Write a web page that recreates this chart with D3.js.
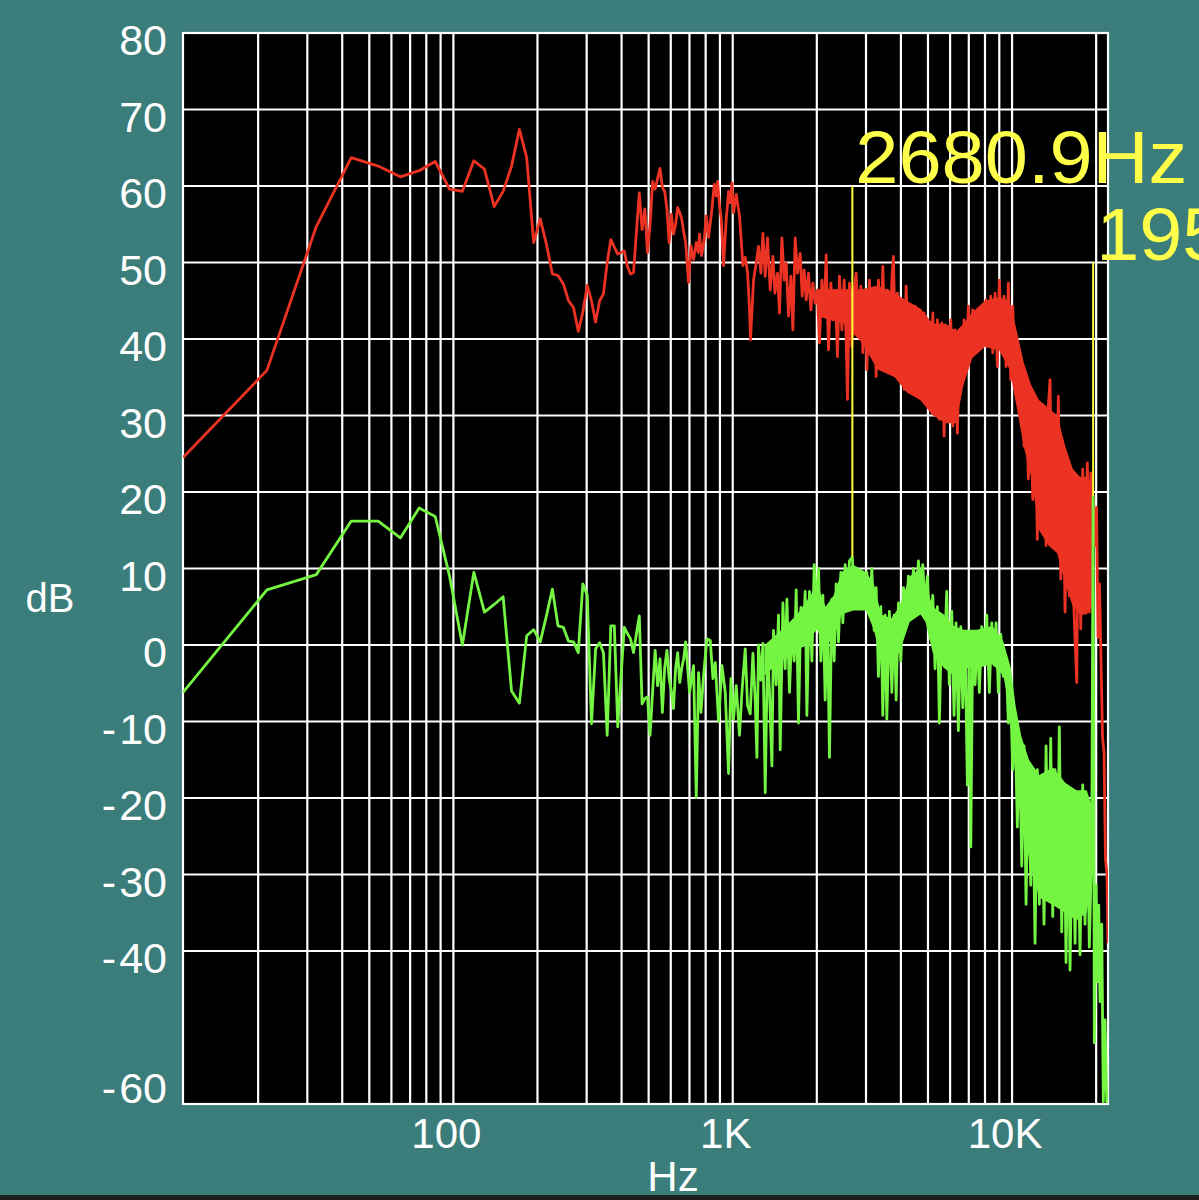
<!DOCTYPE html>
<html><head><meta charset="utf-8">
<script src="https://cdn.jsdelivr.net/npm/d3@7"></script>
<style>
html,body{margin:0;padding:0;background:#3a7d7b;overflow:hidden;}
svg{display:block;}
text{font-family:"Liberation Sans",Arial,sans-serif;}
</style></head><body>
<svg id="chart" width="1199" height="1200"></svg>
<script>
// ---------- DATA ----------
// FFT bins 1..63 (Hz)
const lowHz = [10.7666,21.5,32.3,43.1,53.8,64.6,75.4,86.1,96.9,107.7,118.4,129.2,140.0,150.7,161.5,172.3,183.0,193.8,204.6,215.3,226.1,236.9,247.6,258.4,269.2,279.9,290.7,301.5,312.2,323.0,333.8,344.5,355.3,366.1,376.8,387.6,398.4,409.1,419.9,430.7,441.4,452.2,463.0,473.7,484.5,495.3,506.0,516.8,527.6,538.3,549.1,559.9,570.6,581.4,592.2,602.9,613.7,624.5,635.2,646.0,656.8,667.5,678.3];
const redLowDb = [24.5,35.9,54.7,63.7,62.6,61.2,62.0,63.2,59.6,59.3,63.3,62.2,57.3,59.3,62.6,67.4,63.7,52.6,55.7,52.4,48.5,48.3,47.2,45.0,44.1,41.0,43.5,47.0,45.0,42.2,45.0,45.9,50.0,53.0,52.0,51.1,51.3,51.5,49.5,48.5,48.7,54.0,59.1,54.3,57.0,51.3,55.0,60.6,59.6,61.0,62.3,59.8,59.3,57.0,52.6,56.3,53.7,55.0,57.2,56.5,55.7,54.0,52.6];
const greenLowDb = [-6.2,7.2,9.2,16.2,16.2,14.0,17.9,16.8,9.0,0.0,9.5,4.3,5.3,6.3,-6.0,-7.6,1.2,2.0,0.4,3.8,7.3,2.5,2.3,0.5,0.4,-1.0,8.0,6.5,-10.3,-0.5,0.3,-1.0,-11.8,2.5,2.5,-10.7,-4.0,2.3,1.5,0.8,-1.0,1.5,3.8,-7.7,-7.0,-6.8,-11.8,-6.0,-0.7,-5.3,-1.8,-8.8,-3.0,-0.7,-4.4,-6.0,-8.3,-3.0,-1.0,-4.9,-3.0,-1.8,0.4];

// dense upper part [Hz, dB]
const redHigh = [[694.9,47.4],[708.7,52.2],[724.1,50.4],[740.4,52.6],[752.7,51.3],[760.7,53.7],[773.5,50.9],[790.8,53.0],[804.0,56.1],[819.4,53.3],[842.6,57.0],[858.7,60.2],[873.1,58.7],[882.4,60.6],[897.1,57.4],[909.8,55.7],[927.2,49.6],[948.0,55.7],[966.1,59.3],[979.7,57.8],[993.5,60.4],[1006.7,56.5],[1029.2,58.9],[1057.4,56.1],[1087.6,49.6],[1108.5,50.7],[1129.7,48.7],[1148.4,43.9],[1158.0,39.9],[1187.0,47.7],[1213.6,49.9],[1236.8,52.1],[1261.6,48.6],[1282.5,53.8],[1307.0,48.2],[1332.0,53.2],[1362.0,46.4],[1392.6,50.8],[1415.8,46.0],[1446.4,48.6],[1470.4,43.4],[1499.9,53.2],[1528.5,47.7],[1553.9,49.9],[1583.6,43.0],[1615.2,48.2],[1642.0,41.2],[1673.5,53.2],[1705.5,48.6],[1743.9,51.2],[1772.8,45.6],[1802.3,49.0],[1832.3,45.1],[1867.4,48.6],[1904.6,43.8],[1936.2,47.3],[1973.3,44.7],[2011.0,46.4],[2044.3,39.5],[2085.2,47.7],[2125.1,43.4],[2160.4,51.0],[2201.7,38.6],[2245.8,47.3],[2283.0,42.5],[2326.7,46.4],[2371.1,37.7],[2410.5,48.2],[2458.7,41.2],[2505.7,47.7],[2547.5,39.9],[2574.8,32.1],[2617.5,47.3],[2669.9,39.0],[2721.0,46.4],[2766.4,48.6],[2819.3,40.3],[2875.5,46.9],[2923.2,38.2],[2979.1,46.0],[3021.1,36.0],[3086.3,47.7],[3147.4,40.3],[3207.6,46.4],[3261.1,35.1],[3323.6,47.7],[3389.8,39.9],[3446.1,49.5],[3512.1,39.0],[3579.2,46.4],[3638.5,36.4],[3711.5,47.7],[3760.9,50.8],[3823.3,38.2],[3886.6,46.0],[3951.1,34.7],[4030.3,45.1],[4107.4,33.4],[4175.9,46.9],[4255.8,36.4],[4340.7,43.4],[4412.8,33.8],[4497.3,44.3],[4583.2,35.6],[4659.2,42.5],[4750.9,33.0],[4841.7,43.4],[4922.3,32.1],[5016.5,42.1],[5116.6,33.8],[5201.6,43.4],[5301.1,30.3],[5402.4,42.5],[5491.9,29.5],[5602.0,42.1],[5709.2,27.3],[5804.3,41.2],[5915.4,30.3],[6033.4,42.5],[6133.6,28.6],[6250.9,41.2],[6370.3,27.7],[6475.9,38.2],[6605.6,33.8],[6732.0,42.5],[6844.1,36.4],[6975.1,44.3],[7114.3,38.2],[7232.4,43.8],[7370.8,38.6],[7511.6,43.4],[7636.1,39.0],[7789.1,44.3],[7938.1,39.5],[8070.3,45.1],[8224.8,39.0],[8388.9,45.6],[8528.2,38.2],[8691.3,46.0],[8857.3,36.4],[9004.2,47.7],[9184.6,38.2],[9360.3,45.6],[9516.1,36.4],[9698.3,47.3],[9892.4,34.7],[10057,44.3],[10249,33.8],[10445,39.0],[10618,30.3],[10831,36.4],[11038,26.0],[11221,34.7],[11436,21.7],[11664,32.5],[11858,19.0],[12085,31.2],[12316,13.8],[12520,30.3],[12771,17.3],[13015,29.5],[13232,13.0],[13485,31.2],[13675,34.7],[13902,15.1],[14133,29.5],[14368,13.0],[14643,32.5],[14936,8.6],[15184,26.0],[15474,4.3],[15770,21.7],[16031,6.4],[16352,20.3],[16665,4.3],[17041,-4.9],[17268,21.7],[17612,2.1],[17904,23.0],[18247,6.4],[18596,23.8],[18904,4.3],[19125,22.5],[19509,19.0],[19815,13.0],[20061,18.0],[20310,1.0],[20558,8.0],[20816,-2.0],[21075,-12.0],[21336,-14.0],[21601,-28.0],[21870,-30.0],[22050,-39.0]];

const greenHigh = [[700.5,-6.2],[724.1,-2.7],[740.4,-19.9],[754.6,-3.6],[769.6,-8.8],[786.3,-4.0],[808.6,0.8],[830.9,0.6],[849.6,-4.4],[865.9,-2.3],[889.8,-10.0],[915.0,-2.7],[940.2,-6.2],[966.1,-16.8],[985.4,-4.4],[1006.7,-9.7],[1029.2,-5.3],[1057.4,-11.8],[1078.7,-6.2],[1108.5,-0.5],[1129.7,-7.9],[1155.1,-9.0],[1181.1,-1.1],[1203.6,-7.2],[1220.6,-14.7],[1236.8,0.0],[1261.6,-4.6],[1282.5,0.2],[1307.0,-19.3],[1332.0,-0.6],[1354.1,-6.2],[1381.2,-15.8],[1399.6,1.9],[1431.1,-5.2],[1458.5,3.9],[1479.0,-13.7],[1512.3,5.5],[1541.1,-3.1],[1562.8,6.0],[1596.6,-6.2],[1628.5,2.4],[1659.7,-2.1],[1687.4,7.2],[1719.7,-10.2],[1754.0,4.9],[1783.1,-0.1],[1817.2,7.0],[1842.8,-9.2],[1882.6,7.0],[1920.3,-2.1],[1957.0,10.5],[1989.7,4.4],[2027.8,10.0],[2068.1,-2.1],[2102.5,6.5],[2142.6,-7.2],[2183.5,3.9],[2219.7,-14.7],[2264.3,6.0],[2307.6,-2.1],[2346.0,8.0],[2390.9,0.4],[2438.6,9.5],[2479.0,2.9],[2526.5,10.5],[2574.8,6.0],[2617.5,11.0],[2680.9,11.5],[2721.0,6.0],[2782.3,10.0],[2842.4,5.0],[2899.2,9.0],[2954.7,7.5],[3021.1,9.5],[3086.3,3.9],[3147.4,10.0],[3207.6,1.9],[3261.1,7.5],[3323.6,-4.1],[3389.8,5.0],[3446.1,-9.2],[3512.1,3.9],[3561.6,-9.7],[3638.5,4.4],[3711.5,-6.2],[3782.5,3.9],[3845.5,-7.2],[3919.1,5.5],[3997.4,-2.1],[4084.0,7.5],[4165.5,2.4],[4255.8,9.0],[4340.7,4.4],[4434.8,10.0],[4534.6,6.0],[4621.4,11.0],[4712.0,7.0],[4790.2,10.5],[4881.8,5.0],[4975.0,9.0],[5087.1,0.9],[5201.6,6.5],[5301.1,-3.1],[5402.4,5.0],[5491.9,-10.2],[5602.0,3.9],[5709.2,-2.1],[5837.7,7.0],[5963.7,-5.2],[6083.2,4.4],[6199.6,-9.2],[6302.8,2.9],[6423.4,-11.2],[6551.6,2.4],[6660.4,-8.2],[6787.8,1.4],[6917.4,-18.3],[7032.2,-2.1],[7114.3,-26.4],[7232.4,1.4],[7370.8,-5.2],[7511.6,1.4],[7636.1,-6.2],[7789.1,2.4],[7938.1,-2.1],[8116.8,3.9],[8292.0,-6.2],[8458.1,2.9],[8619.9,-2.6],[8763.4,2.9],[8931.2,-6.2],[9109.4,1.4],[9306.9,-4.1],[9516.1,-2.1],[9698.3,-10.2],[9892.4,-7.2],[10057,-16.3],[10249,-10.2],[10445,-23.8],[10618,-12.2],[10831,-28.9],[11038,-13.2],[11221,-33.9],[11436,-15.3],[11664,-31.4],[11858,-17.3],[12085,-39.0],[12316,-16.3],[12520,-33.9],[12771,-17.3],[13015,-36.5],[13232,-13.2],[13485,-31.4],[13754,-12.2],[13983,-35.5],[14250,-16.3],[14522,-31.4],[14763,-10.7],[15059,-37.5],[15347,-18.8],[15602,-41.5],[15901,-20.3],[16125,-42.5],[16488,-19.3],[16804,-39.0],[17125,-20.3],[17510,-40.5],[17904,-18.3],[18247,-36.5],[18596,-20.3],[18904,-39.5],[19283,-26.4],[19509,19.5],[19700,-52.0],[19979,-31.4],[20193,-44.0],[20427,-34.0],[20645,-46.6],[20936,-36.5],[21214,-59.7],[21513,-49.0],[21816,-59.7],[22050,-58.7]];

// solid core of the dense high-frequency traces [Hz, low dB, high dB]
const redBand = [[2000,43,46.5],[2500,42,46.5],[2900,39.5,46.5],[3300,36,47],[3800,35,46],[4200,33,45],[4700,32,44],[5200,30,42],[5800,29,42],[6300,29,41],[6700,34,42],[7200,37.5,43.5],[8000,39,45],[9000,38.5,45.5],[9800,36,45],[10400,31,41],[11000,26,37],[11700,22,34],[12500,15,32],[13500,13,31],[14500,12,30],[15500,8,26],[16500,5,23],[17500,4,22],[18500,4,22],[19300,5,21]];
const greenBand = [[1300,-4,0],[1500,-2,2],[1700,-1,4],[1900,1,6.5],[2000,2,8],[2150,0,5],[2300,1,6.5],[2450,4,9.5],[2700,4.5,10.5],[3000,4.5,9.5],[3200,2,8],[3400,-2,4],[3700,-2,3.5],[3950,-1,5],[4300,3,9],[4700,4,10],[4900,3,8],[5200,-1,5],[5700,-3,4],[6200,-4,2.5],[6700,-3,2],[7500,-3,2],[8500,-2.5,2.5],[9300,-4,0.5],[9900,-9,-3],[10300,-15,-8],[10800,-21,-12],[11500,-28,-15],[12500,-33,-17],[14000,-34,-16],[15500,-35,-18],[17000,-36,-19],[18500,-35,-19],[19300,-31,-21]];

const yGrid = [70,60,50,40,30,20,10,0,-10,-20,-30,-40];
const yTickLabels = [80,70,60,50,40,30,20,10,0,-10,-20,-30,-40,-60];
const xGrid = [20,30,40,50,60,70,80,90,100,200,300,400,500,600,700,800,900,1000,2000,3000,4000,5000,6000,7000,8000,9000,10000,20000];
const xTickValues = [100,1000,10000];
const xTickNames = ["100","1K","10K"];
const markers = [{hz:2680.9, db:11.5, labelDb:60, text:"2680.9Hz"},{hz:19509.1, db:19.5, labelDb:50, text:"19509.1Hz"}];

// ---------- DRAW ----------
const W=1199,H=1200;
const P={left:183,right:1108,top:33,bottom:1104};
const svg=d3.select('#chart');
svg.append('rect').attr('width',W).attr('height',H).attr('fill','#3a7d7b');

const x=d3.scaleLog().domain([10.7666,22050]).range([P.left,P.right]);
const y=d3.scaleLinear().domain([-60,80]).range([P.bottom,P.top]);

svg.append('rect').attr('x',P.left).attr('y',P.top).attr('width',P.right-P.left).attr('height',P.bottom-P.top).attr('fill','#000');

const grid=svg.append('g').attr('stroke','#fff').attr('stroke-width',2.2);
grid.selectAll('line.v').data(xGrid).join('line').attr('class','v')
  .attr('x1',d=>x(d)).attr('x2',d=>x(d)).attr('y1',P.top).attr('y2',P.bottom);
grid.selectAll('line.h').data(yGrid).join('line').attr('class','h')
  .attr('x1',P.left).attr('x2',P.right).attr('y1',d=>y(d)).attr('y2',d=>y(d));
svg.append('rect').attr('x',P.left).attr('y',P.top).attr('width',P.right-P.left).attr('height',P.bottom-P.top)
  .attr('fill','none').attr('stroke','#fff').attr('stroke-width',2.2);

svg.append('clipPath').attr('id','clip').append('rect')
  .attr('x',P.left).attr('y',P.top).attr('width',P.right-P.left).attr('height',P.bottom-P.top);

const RED='#ec3323', GREEN='#74f542';
const line=d3.line().x(d=>x(d[0])).y(d=>y(d[1]));
const area=d3.area().x(d=>x(d[0])).y0(d=>y(d[1])).y1(d=>y(d[2]));
const red=lowHz.map((h,i)=>[h,redLowDb[i]]).concat(redHigh);
const green=lowHz.map((h,i)=>[h,greenLowDb[i]]).concat(greenHigh);
const curves=svg.append('g').attr('clip-path','url(#clip)');
curves.append('path').datum(redBand).attr('d',area).attr('fill',RED);
curves.append('path').datum(red).attr('d',line).attr('fill','none').attr('stroke',RED).attr('stroke-width',2.8).attr('stroke-linejoin','round');
curves.append('path').datum(greenBand).attr('d',area).attr('fill',GREEN);
curves.append('path').datum(green).attr('d',line).attr('fill','none').attr('stroke',GREEN).attr('stroke-width',2.8).attr('stroke-linejoin','round');

// markers
markers.forEach((m,i)=>{
  svg.append('line').attr('x1',x(m.hz)).attr('x2',x(m.hz)).attr('y1',y(m.labelDb)).attr('y2',y(m.db))
    .attr('stroke','#ffff3c').attr('stroke-width',2);
  svg.append('text').attr('x',x(m.hz)+3).attr('y',y(m.labelDb)-3)
    .attr('fill','#ffff4a').attr('font-size',75)
    .attr('textLength', i===0 ? 332 : 375).attr('lengthAdjust','spacingAndGlyphs').text(m.text);
});

// y labels
const yl=svg.append('g').selectAll('text').data(yTickLabels).join('text')
  .attr('x',167).attr('y',d=>d===-60?y(d)-1:y(d)+22)
  .attr('text-anchor','end').attr('fill','#fff').attr('font-size',43);
yl.each(function(d){
  const t=d3.select(this);
  if(d<0){
    t.append('tspan').text('-');
    t.append('tspan').attr('dx',3).text(String(-d));
  } else t.text(String(d));
});
// x labels
svg.append('g').selectAll('text').data(xTickValues).join('text')
  .attr('x',d=>x(d)-7).attr('y',1148).attr('text-anchor','middle')
  .attr('fill','#fff').attr('font-size',42).text((d,i)=>xTickNames[i]);

svg.append('text').attr('x',50).attr('y',612).attr('text-anchor','middle').attr('fill','#fff').attr('font-size',40).text('dB');
svg.append('text').attr('x',673).attr('y',1191).attr('text-anchor','middle').attr('fill','#fff').attr('font-size',42).text('Hz');
svg.append('rect').attr('x',0).attr('y',1195).attr('width',W).attr('height',5).attr('fill','#1e1e1e');
</script>
</body></html>
